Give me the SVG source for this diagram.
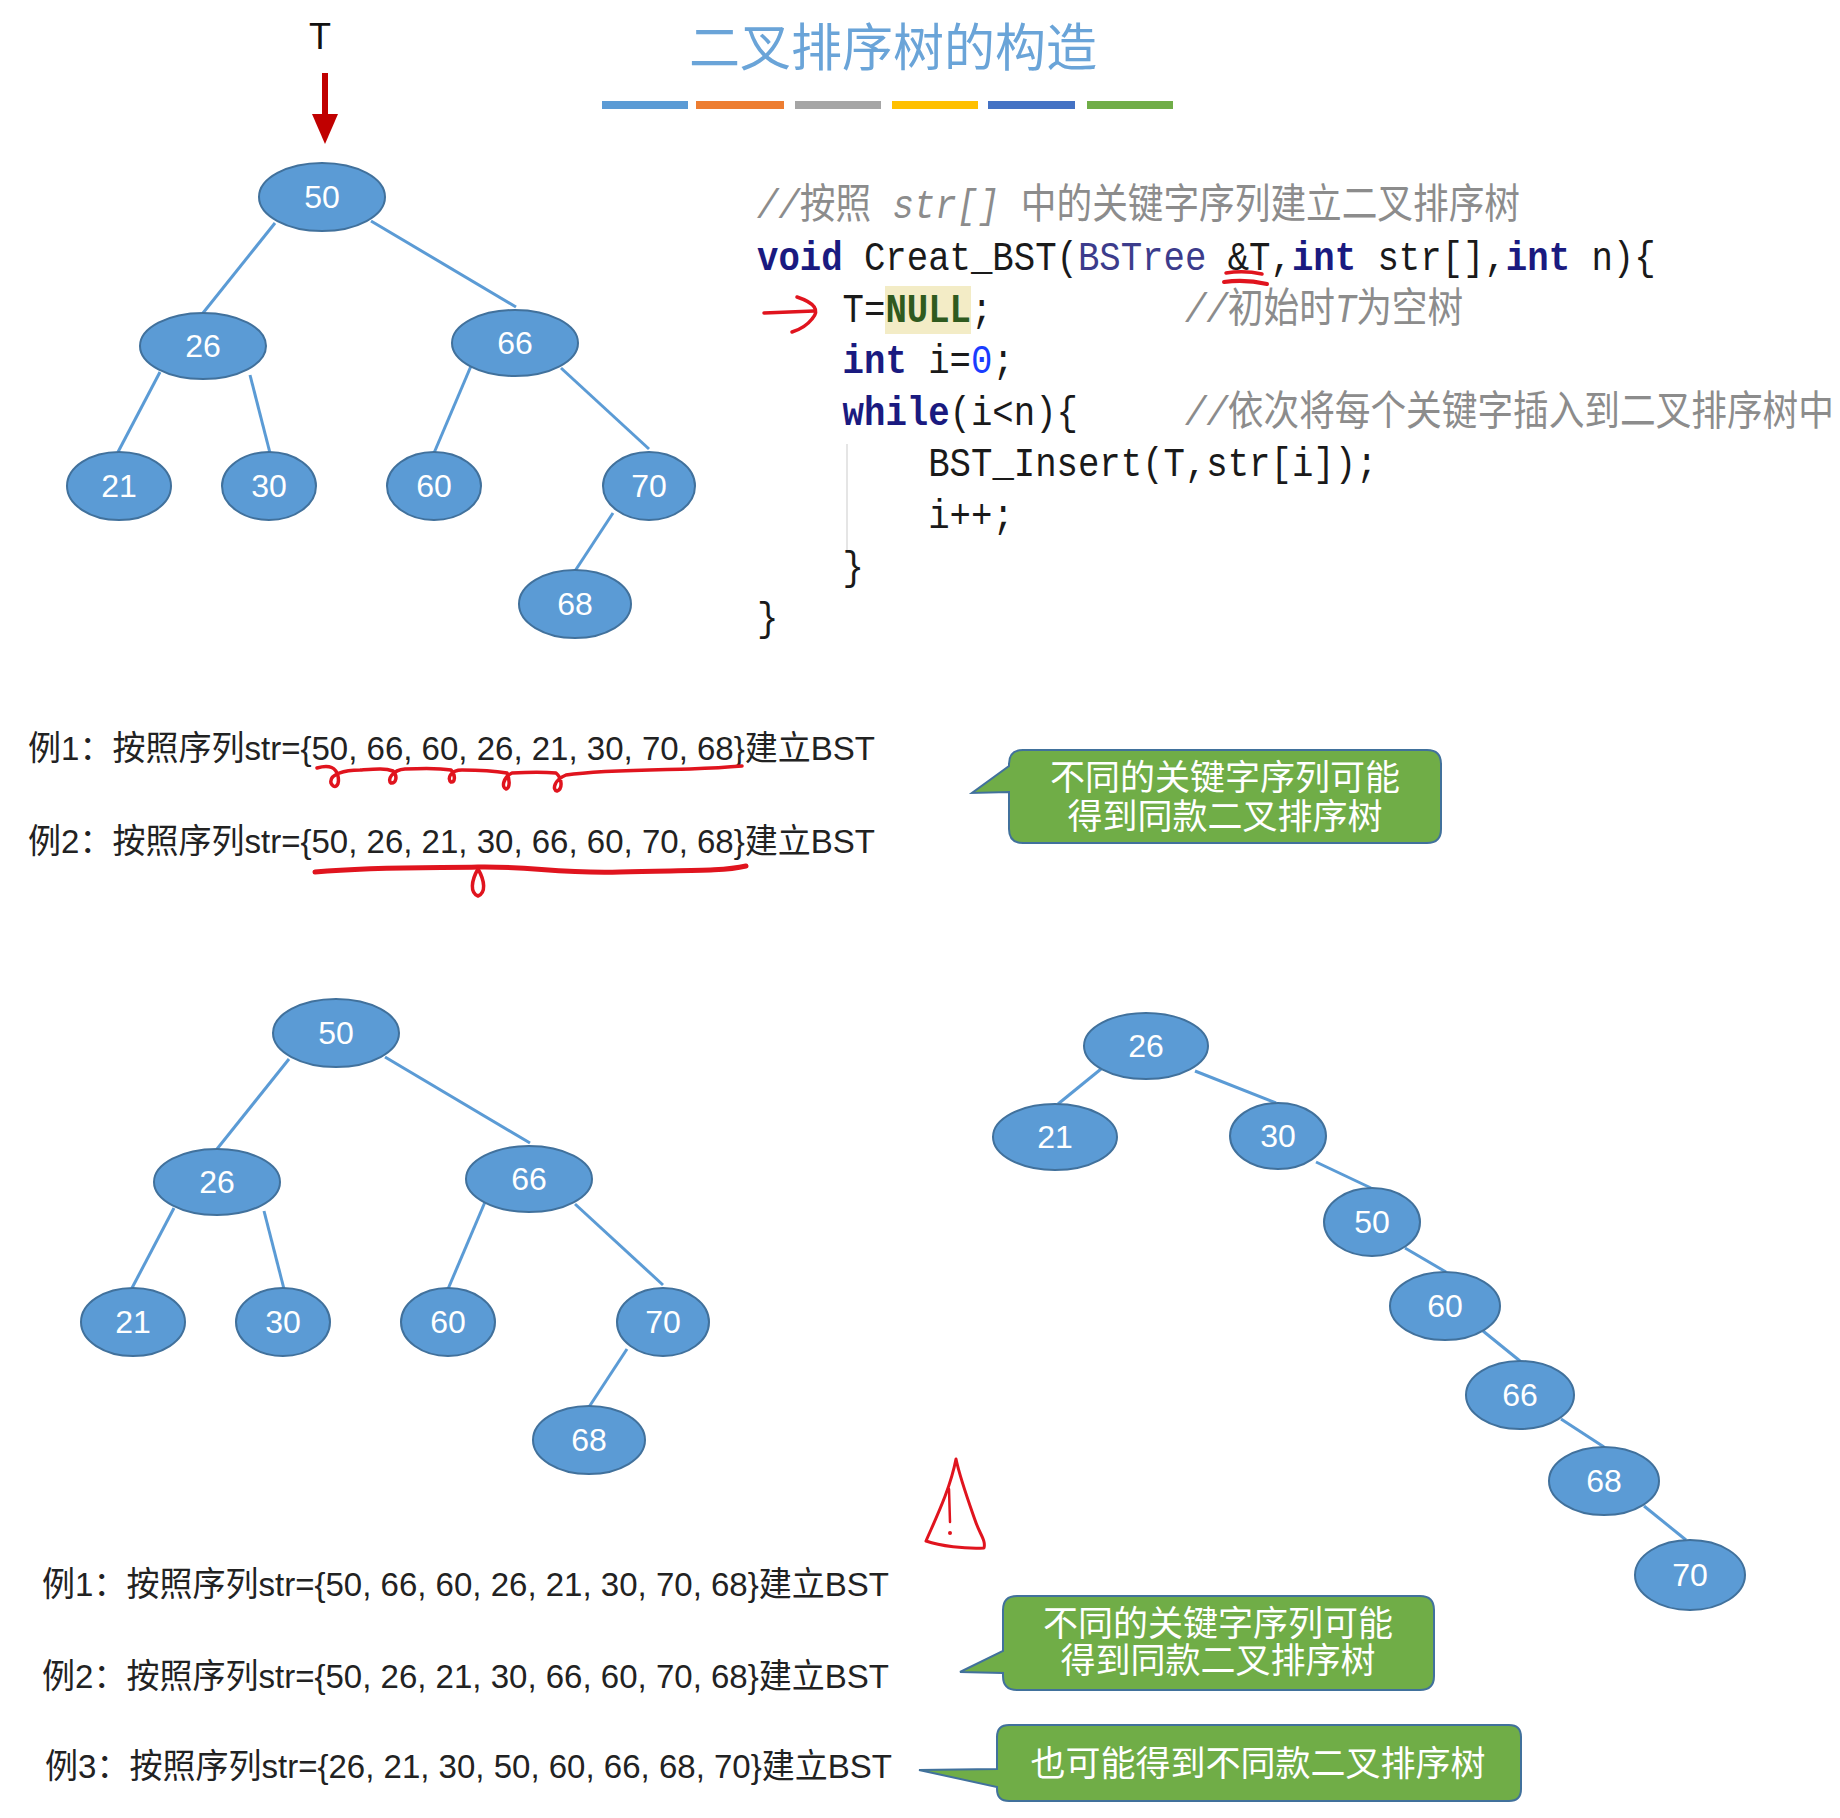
<svg xmlns="http://www.w3.org/2000/svg" width="1840" height="1818" viewBox="0 0 1840 1818">
<style>
.node ellipse{fill:#5b9bd5;stroke:#41719c;stroke-width:2}
.node text{fill:#fff;font-family:"Liberation Sans",sans-serif;font-size:32px;text-anchor:middle}
.edge{stroke:#5b9bd5;stroke-width:3;fill:none}
.ex{font-family:"Liberation Sans","Noto Sans CJK SC",sans-serif;font-size:34px;fill:#222}
.callout path{fill:#70ad47;stroke:#41719c;stroke-width:2}
.callout text{fill:#fff;font-family:"Noto Sans CJK SC",sans-serif;font-size:35px;text-anchor:middle}
.code{font-family:"Liberation Mono","Noto Sans CJK SC",monospace;font-size:41px;fill:#1a1a1a}
.kw{font-weight:bold;fill:#1a1a80}
.ty{fill:#3c3c8c}
.cm{fill:#8c8c8c;font-style:italic}
.up{font-style:normal}
.nul{font-weight:bold;fill:#2f5a1e}
.num{fill:#1a3cff}
.ink{stroke:#e0141e;fill:none;stroke-linecap:round;stroke-linejoin:round}
</style>
<rect width="1840" height="1818" fill="#fff"/>

<!-- title -->
<g id="title">
<text x="893" y="66" font-family="Noto Sans CJK SC,sans-serif" font-size="51" fill="#6aa4d8" text-anchor="middle">二叉排序树的构造</text>
<rect x="602" y="101" width="86" height="8" fill="#5b9bd5"/>
<rect x="696" y="101" width="88" height="8" fill="#ed7d31"/>
<rect x="795" y="101" width="86" height="8" fill="#a5a5a5"/>
<rect x="892" y="101" width="86" height="8" fill="#ffc000"/>
<rect x="988" y="101" width="87" height="8" fill="#4472c4"/>
<rect x="1087" y="101" width="86" height="8" fill="#70ad47"/>
</g>

<!-- T pointer -->
<g id="T-pointer">
<text x="320" y="49" font-family="Liberation Sans,sans-serif" font-size="36" fill="#111" text-anchor="middle">T</text>
<line x1="325" y1="73" x2="325" y2="118" stroke="#c00000" stroke-width="6"/>
<polygon points="312,114 338,114 325,144" fill="#c00000"/>
</g>

<!-- tree 1 -->
<g id="tree1">
<g id="tree1-edges">
<line class="edge" x1="275" y1="223" x2="203" y2="313"/>
<line class="edge" x1="371" y1="221" x2="516" y2="307"/>
<line class="edge" x1="160" y1="372" x2="118" y2="452"/>
<line class="edge" x1="250" y1="375" x2="270" y2="453"/>
<line class="edge" x1="471" y1="366" x2="434" y2="453"/>
<line class="edge" x1="561" y1="368" x2="649" y2="449"/>
<line class="edge" x1="613" y1="513" x2="575" y2="571"/>
</g>
<g id="t1-50" class="node"><ellipse cx="322" cy="197" rx="63" ry="34"/><text x="322" y="208">50</text></g>
<g id="t1-26" class="node"><ellipse cx="203" cy="346" rx="63" ry="33"/><text x="203" y="357">26</text></g>
<g id="t1-66" class="node"><ellipse cx="515" cy="343" rx="63" ry="33"/><text x="515" y="354">66</text></g>
<g id="t1-21" class="node"><ellipse cx="119" cy="486" rx="52" ry="34"/><text x="119" y="497">21</text></g>
<g id="t1-30" class="node"><ellipse cx="269" cy="486" rx="47" ry="34"/><text x="269" y="497">30</text></g>
<g id="t1-60" class="node"><ellipse cx="434" cy="486" rx="47" ry="34"/><text x="434" y="497">60</text></g>
<g id="t1-70" class="node"><ellipse cx="649" cy="486" rx="46" ry="34"/><text x="649" y="497">70</text></g>
<g id="t1-68" class="node"><ellipse cx="575" cy="604" rx="56" ry="34"/><text x="575" y="615">68</text></g>
</g>

<!-- code -->
<g id="code">
<rect x="885" y="286" width="86" height="48" fill="#f3ecc6"/>
<line x1="847" y1="444" x2="847" y2="552" stroke="#dddddd" stroke-width="1.5"/>
<g class="code" transform="translate(757,0) scale(0.87,1)">
<text x="0" y="218" class="cm">//<tspan class="up">按照</tspan> str[] <tspan class="up">中的关键字序列建立二叉排序树</tspan></text>
<text x="0" y="270"><tspan class="kw">void</tspan> Creat_BST(<tspan class="ty">BSTree</tspan> &amp;T,<tspan class="kw">int</tspan> str[],<tspan class="kw">int</tspan> n){</text>
<text x="98.4" y="322">T=<tspan class="nul">NULL</tspan>;</text>
<text x="492" y="322" class="cm">//<tspan class="up">初始时</tspan>T<tspan class="up">为空树</tspan></text>
<text x="98.4" y="373"><tspan class="kw">int</tspan> i=<tspan class="num">0</tspan>;</text>
<text x="98.4" y="425"><tspan class="kw">while</tspan>(i&lt;n){</text>
<text x="492" y="425" class="cm">//<tspan class="up">依次将每个关键字插入到二叉排序树中</tspan></text>
<text x="196.8" y="476">BST_Insert(T,str[i]);</text>
<text x="196.8" y="528">i++;</text>
<text x="98.4" y="580">}</text>
<text x="0" y="631">}</text>
</g>
<path class="ink" stroke-width="3.5" d="M1226,273 Q1244,270 1262,274"/>
<path class="ink" stroke-width="4" d="M1224,282 Q1245,279 1267,284"/>
<path class="ink" stroke-width="3.5" d="M764,313 L814,311"/>
<path class="ink" stroke-width="3.5" d="M797,297 Q824,306 812,319 Q805,328 792,332"/>
</g>

<!-- examples top -->
<g id="examples-top">
<text class="ex" x="28" y="760" textLength="847" lengthAdjust="spacingAndGlyphs">例1：按照序列str={50, 66, 60, 26, 21, 30, 70, 68}建立BST</text>
<text class="ex" x="28" y="853" textLength="847" lengthAdjust="spacingAndGlyphs">例2：按照序列str={50, 26, 21, 30, 66, 60, 70, 68}建立BST</text>
<path class="ink" stroke-width="3.5" d="M317,768 C330,764 336,768 338,776 C340,786 334,790 331,783 C329,774 345,770 360,770 C375,769 385,768 393,771 C398,776 396,784 391,783 C387,780 392,770 405,769 C425,768 440,768 451,770 C456,775 455,783 451,782 C447,779 450,770 462,770 C480,770 495,771 507,773 C510,780 510,788 506,789 C502,788 502,778 512,773 C530,772 545,772 556,773 C562,778 563,789 557,791 C552,790 554,780 566,775 C600,770 650,770 690,769 C715,768 730,767 742,766"/>
<path class="ink" stroke-width="5" d="M315,872 C380,866 440,868 478,867 C530,866 560,874 620,872 C680,870 720,872 746,866"/>
<path class="ink" stroke-width="3.5" d="M478,869 C471,881 470,893 478,896 C486,893 485,881 478,869 Z"/>
</g>

<!-- callout top -->
<g id="callout-top" class="callout">
<path d="M1023,750 H1427 Q1441,750 1441,764 V829 Q1441,843 1427,843 H1023 Q1009,843 1009,829 V792 L972,793 L1009,766 V764 Q1009,750 1023,750 Z"/>
<text x="1225" y="790">不同的关键字序列可能<tspan x="1225" y="829">得到同款二叉排序树</tspan></text>
</g>

<!-- tree 2 -->
<g id="tree2" transform="translate(14,836)">
<g id="tree2-edges">
<line class="edge" x1="275" y1="223" x2="203" y2="313"/>
<line class="edge" x1="371" y1="221" x2="516" y2="307"/>
<line class="edge" x1="160" y1="372" x2="118" y2="452"/>
<line class="edge" x1="250" y1="375" x2="270" y2="453"/>
<line class="edge" x1="471" y1="366" x2="434" y2="453"/>
<line class="edge" x1="561" y1="368" x2="649" y2="449"/>
<line class="edge" x1="613" y1="513" x2="575" y2="571"/>
</g>
<g id="t2-50" class="node"><ellipse cx="322" cy="197" rx="63" ry="34"/><text x="322" y="208">50</text></g>
<g id="t2-26" class="node"><ellipse cx="203" cy="346" rx="63" ry="33"/><text x="203" y="357">26</text></g>
<g id="t2-66" class="node"><ellipse cx="515" cy="343" rx="63" ry="33"/><text x="515" y="354">66</text></g>
<g id="t2-21" class="node"><ellipse cx="119" cy="486" rx="52" ry="34"/><text x="119" y="497">21</text></g>
<g id="t2-30" class="node"><ellipse cx="269" cy="486" rx="47" ry="34"/><text x="269" y="497">30</text></g>
<g id="t2-60" class="node"><ellipse cx="434" cy="486" rx="47" ry="34"/><text x="434" y="497">60</text></g>
<g id="t2-70" class="node"><ellipse cx="649" cy="486" rx="46" ry="34"/><text x="649" y="497">70</text></g>
<g id="t2-68" class="node"><ellipse cx="575" cy="604" rx="56" ry="34"/><text x="575" y="615">68</text></g>
</g>

<!-- tree 3 -->
<g id="tree3">
<g id="tree3-edges">
<line class="edge" x1="1101" y1="1069" x2="1058" y2="1104"/>
<line class="edge" x1="1195" y1="1071" x2="1276" y2="1103"/>
<line class="edge" x1="1316" y1="1162" x2="1371" y2="1188"/>
<line class="edge" x1="1405" y1="1248" x2="1446" y2="1272"/>
<line class="edge" x1="1483" y1="1331" x2="1520" y2="1361"/>
<line class="edge" x1="1561" y1="1419" x2="1604" y2="1447"/>
<line class="edge" x1="1644" y1="1506" x2="1686" y2="1540"/>
</g>
<g id="t3-26" class="node"><ellipse cx="1146" cy="1046" rx="62" ry="33"/><text x="1146" y="1057">26</text></g>
<g id="t3-21" class="node"><ellipse cx="1055" cy="1137" rx="62" ry="33"/><text x="1055" y="1148">21</text></g>
<g id="t3-30" class="node"><ellipse cx="1278" cy="1136" rx="48" ry="33"/><text x="1278" y="1147">30</text></g>
<g id="t3-50" class="node"><ellipse cx="1372" cy="1222" rx="48" ry="34"/><text x="1372" y="1233">50</text></g>
<g id="t3-60" class="node"><ellipse cx="1445" cy="1306" rx="55" ry="34"/><text x="1445" y="1317">60</text></g>
<g id="t3-66" class="node"><ellipse cx="1520" cy="1395" rx="54" ry="34"/><text x="1520" y="1406">66</text></g>
<g id="t3-68" class="node"><ellipse cx="1604" cy="1481" rx="55" ry="34"/><text x="1604" y="1492">68</text></g>
<g id="t3-70" class="node"><ellipse cx="1690" cy="1575" rx="55" ry="35"/><text x="1690" y="1586">70</text></g>
</g>

<!-- warning mark -->
<g id="warning">
<path class="ink" stroke-width="3" d="M956,1459 C950,1490 935,1520 926,1541 C940,1546 965,1549 984,1548 C986,1540 980,1535 975,1520 C968,1500 960,1478 956,1459 Z"/>
<path class="ink" stroke-width="2.5" d="M949,1489 L950,1522"/>
<circle cx="950" cy="1533" r="2" fill="#e0141e"/>
</g>

<!-- examples bottom -->
<g id="examples-bottom">
<text class="ex" x="42" y="1596" textLength="847" lengthAdjust="spacingAndGlyphs">例1：按照序列str={50, 66, 60, 26, 21, 30, 70, 68}建立BST</text>
<text class="ex" x="42" y="1688" textLength="847" lengthAdjust="spacingAndGlyphs">例2：按照序列str={50, 26, 21, 30, 66, 60, 70, 68}建立BST</text>
<text class="ex" x="45" y="1778" textLength="847" lengthAdjust="spacingAndGlyphs">例3：按照序列str={26, 21, 30, 50, 60, 66, 68, 70}建立BST</text>
</g>

<!-- callouts bottom -->
<g id="callout-bottom-1" class="callout">
<path d="M1017,1596 H1420 Q1434,1596 1434,1610 V1676 Q1434,1690 1420,1690 H1017 Q1003,1690 1003,1676 V1673 L960,1672 L1003,1651 V1610 Q1003,1596 1017,1596 Z"/>
<text x="1218" y="1636">不同的关键字序列可能<tspan x="1218" y="1673">得到同款二叉排序树</tspan></text>
</g>
<g id="callout-bottom-2" class="callout">
<path d="M1009,1725 H1509 Q1521,1725 1521,1737 V1789 Q1521,1801 1509,1801 H1009 Q997,1801 997,1789 V1787 L919,1770 L997,1769 V1737 Q997,1725 1009,1725 Z"/>
<text x="1258" y="1776">也可能得到不同款二叉排序树</text>
</g>
</svg>
